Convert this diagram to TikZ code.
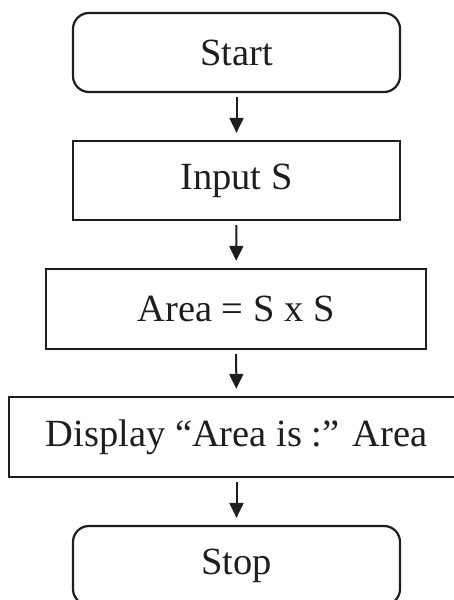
\documentclass[tikz,border=0pt]{standalone}
\usepackage{fontspec}
\setmainfont{Liberation Serif}
\usetikzlibrary{arrows.meta}
\definecolor{ink}{HTML}{1E1E1E}
\tikzset{
  box/.style={draw=ink, line width=2.2bp, minimum width=#1, minimum height=79bp, inner sep=0pt, text=ink, font=\fontsize{38.5bp}{41bp}\selectfont},
  term/.style={box=#1, rounded corners=16bp},
  flow/.style={draw=ink, line width=2bp, -{Triangle[length=15bp,width=14bp]}, shorten <=4bp, shorten >=7bp}
}
\begin{document}
\begin{tikzpicture}[x=1bp,y=-1bp]
\useasboundingbox (0,0) rectangle (454,600);
\clip (0,0) rectangle (454,600);
\node[term=327bp] (start) at (236.5,52.5) {Start};
\node[box=327bp] (input) at (236.5,180.5) {Input S};
\node[box=380bp, minimum height=80bp] (area) at (236,309) {Area = S x S};
\node[box=455bp, minimum height=80bp] (disp) at (236.5,437) {Display “Area is :” Area};
\node[term=327bp] (stop) at (236.5,565.5) {Stop};
\draw[flow] (start) -- (input);
\draw[flow] (input) -- (area);
\draw[flow] (area) -- (disp);
\draw[flow] (disp) -- (stop);
\end{tikzpicture}
\end{document}
